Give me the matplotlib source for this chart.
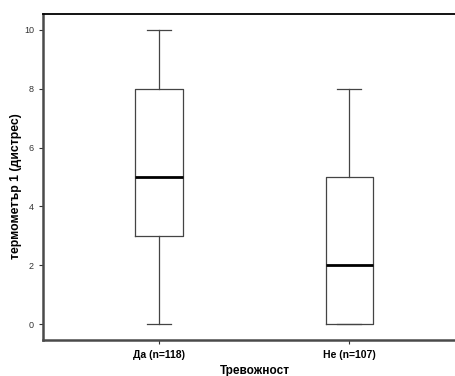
import matplotlib.pyplot as plt

# Summary statistics per group
groups = ['Да (n=118)', 'Не (n=107)']
whislo = [0, 0]
q1 = [3, 0]
med = [5, 2]
q3 = [8, 5]
whishi = [10, 8]

stats = [
    {'whislo': lo, 'q1': a, 'med': m, 'q3': b, 'whishi': hi, 'fliers': []}
    for lo, a, m, b, hi in zip(whislo, q1, med, q3, whishi)
]

plt.rcParams['font.family'] = ['Liberation Sans', 'DejaVu Sans']

fig = plt.figure(figsize=(4.56, 3.76), dpi=100)
ax = fig.add_axes([43/456, 36/376, 1 - 43/456, (340 - 14)/376])

line = '#444444'
ax.bxp(stats, positions=[1, 2], widths=0.25, showfliers=False,
       boxprops=dict(color=line, linewidth=0.9),
       whiskerprops=dict(color=line, linewidth=0.9),
       capprops=dict(color=line, linewidth=0.9),
       medianprops=dict(color='black', linewidth=2),
       capwidths=0.126)

ax.set_xlim(0.39, 2.56)
ax.set_ylim(-0.54, 10.54)
ax.set_yticks([0, 2, 4, 6, 8, 10])
ax.set_xticks([1, 2])
ax.set_xticklabels(groups, fontsize=7.5, fontweight='bold')
ax.tick_params(axis='y', labelsize=6.5, length=3, width=0.8, colors='#333333')
ax.tick_params(axis='x', length=3, width=0.8, colors='#333333', pad=4)
for lbl in ax.get_xticklabels():
    lbl.set_color('black')

ax.spines['right'].set_visible(False)
ax.spines['top'].set_linewidth(1.3)
ax.spines['top'].set_color('black')
for s in ('left', 'bottom'):
    ax.spines[s].set_linewidth(1.8)
    ax.spines[s].set_color('#4a4a4a')

ax.set_ylabel('термометър 1 (дистрес)', fontsize=8.8, fontweight='bold')
ax.yaxis.set_label_coords(-0.052, 0.472)
ax.set_xlabel('Тревожност', fontsize=8.5, fontweight='bold')
ax.xaxis.set_label_coords(0.513, -0.078)

fig.savefig('out.png', dpi=100)
